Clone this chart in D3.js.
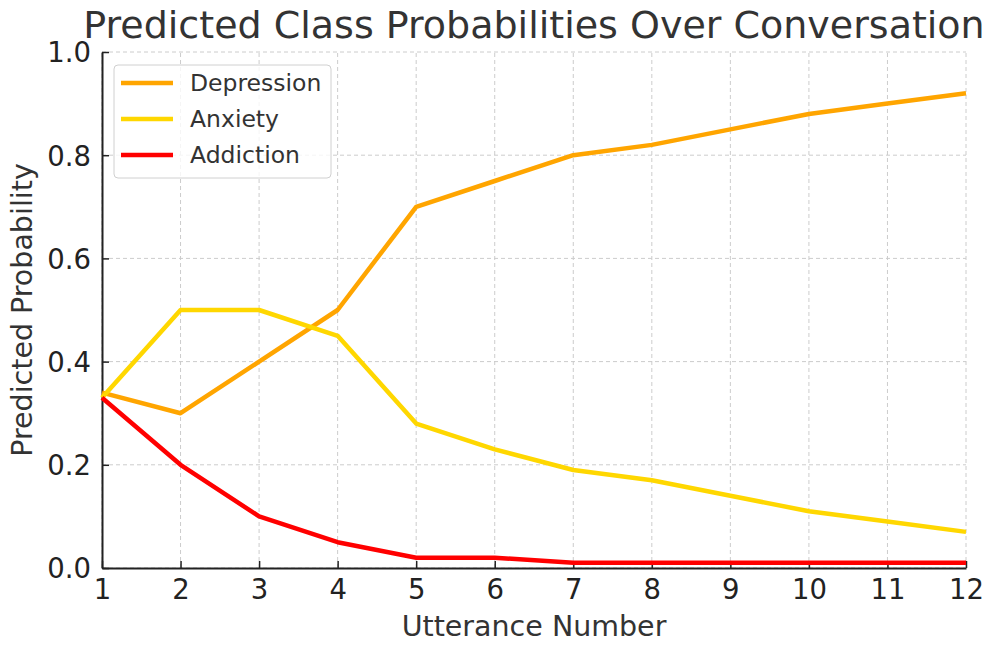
<!DOCTYPE html>
<html>
<head>
<meta charset="utf-8">
<script src="https://cdn.jsdelivr.net/npm/d3@7"></script>
<style>
  body { margin: 0; background: #fff; }
  text { font-family: "DejaVu Sans", sans-serif; }
</style>
</head>
<body>
<div id="chart"></div>
<script>
var utterances = [1, 2, 3, 4, 5, 6, 7, 8, 9, 10, 11, 12];
var depression = [0.34, 0.30, 0.40, 0.50, 0.70, 0.75, 0.80, 0.82, 0.85, 0.88, 0.90, 0.92];
var anxiety    = [0.33, 0.50, 0.50, 0.45, 0.28, 0.23, 0.19, 0.17, 0.14, 0.11, 0.09, 0.07];
var addiction  = [0.33, 0.20, 0.10, 0.05, 0.02, 0.02, 0.01, 0.01, 0.01, 0.01, 0.01, 0.01];
var seriesNames = ["Depression", "Anxiety", "Addiction"];
var seriesColors = ["#ffa500", "#ffd700", "#ff0000"];
var yTicks = [0.0, 0.2, 0.4, 0.6, 0.8, 1.0];

function main() {
  var width = 991, height = 645;
  var margin = {left: 102, right: 25, top: 52, bottom: 77};

  var svg = d3.select("#chart").append("svg")
    .attr("width", width)
    .attr("height", height);

  var x = d3.scaleLinear().domain([1, 12]).range([margin.left, width - margin.right]);
  var y = d3.scaleLinear().domain([0, 1]).range([height - margin.bottom, margin.top]);

  // grid
  var grid = svg.append("g");
  grid.selectAll(".vg").data(utterances).enter().append("line")
    .attr("x1", d => x(d)).attr("x2", d => x(d))
    .attr("y1", y(0)).attr("y2", y(1))
    .attr("stroke", "#cccccc").attr("stroke-width", 1)
    .attr("stroke-dasharray", "4,3");
  grid.selectAll(".hg").data(yTicks).enter().append("line")
    .attr("x1", x(1)).attr("x2", x(12))
    .attr("y1", d => y(d)).attr("y2", d => y(d))
    .attr("stroke", "#cccccc").attr("stroke-width", 1)
    .attr("stroke-dasharray", "4,3");

  // axes
  var xAxis = svg.append("g")
    .attr("transform", "translate(0," + y(0) + ")")
    .call(d3.axisBottom(x).tickValues(utterances).tickFormat(d3.format("d")).tickSizeInner(-7).tickSizeOuter(0).tickPadding(10));
  var yAxis = svg.append("g")
    .attr("transform", "translate(" + x(1) + ",0)")
    .call(d3.axisLeft(y).tickValues(yTicks).tickFormat(d3.format(".1f")).tickSizeInner(-7).tickSizeOuter(0).tickPadding(11));

  [xAxis, yAxis].forEach(function(a) {
    a.select(".domain").attr("stroke", "#222").attr("stroke-width", 2);
    a.selectAll(".tick line").attr("stroke", "#222").attr("stroke-width", 1.5);
    a.selectAll(".tick text").attr("fill", "#222").style("font-size", "27.5px")
      .style("font-family", "'DejaVu Sans', sans-serif");
  });
  yAxis.selectAll(".tick text").attr("dy", "0.36em");
  xAxis.selectAll(".tick text").attr("dy", "0.76em");

  // lines
  var allSeries = [depression, anxiety, addiction];
  var line = d3.line().x((d, i) => x(utterances[i])).y(d => y(d));
  svg.selectAll(".series").data(allSeries).enter().append("path")
    .attr("fill", "none")
    .attr("stroke", (d, i) => seriesColors[i])
    .attr("stroke-width", 4.5)
    .attr("stroke-linejoin", "round")
    .attr("d", line);

  // title
  svg.append("text")
    .attr("x", (x(1) + x(12)) / 2)
    .attr("y", 38)
    .attr("text-anchor", "middle")
    .attr("fill", "#333")
    .style("font-size", "38px")
    .text("Predicted Class Probabilities Over Conversation");

  // axis labels
  svg.append("text")
    .attr("x", (x(1) + x(12)) / 2)
    .attr("y", 636)
    .attr("text-anchor", "middle")
    .attr("fill", "#333")
    .style("font-size", "28.5px")
    .text("Utterance Number");
  svg.append("text")
    .attr("transform", "translate(22," + ((y(0) + y(1)) / 2) + ") rotate(-90)")
    .attr("text-anchor", "middle")
    .attr("dy", "0.36em")
    .attr("fill", "#333")
    .style("font-size", "28.5px")
    .text("Predicted Probability");

  // legend
  var legend = svg.append("g").attr("transform", "translate(114,65)");
  legend.append("rect")
    .attr("width", 217).attr("height", 113)
    .attr("rx", 4).attr("ry", 4)
    .attr("fill", "#fff").attr("fill-opacity", 0.8)
    .attr("stroke", "#d0d0d0").attr("stroke-width", 1);
  var items = legend.selectAll(".item").data(seriesNames).enter().append("g")
    .attr("transform", (d, i) => "translate(0," + (18 + i * 36) + ")");
  items.append("line")
    .attr("x1", 7).attr("x2", 59)
    .attr("stroke", (d, i) => seriesColors[i])
    .attr("stroke-width", 4.5);
  items.append("text")
    .attr("x", 76).attr("dy", "0.36em")
    .attr("fill", "#333")
    .style("font-size", "23.5px")
    .text(d => d);
}

main();
</script>
</body>
</html>
